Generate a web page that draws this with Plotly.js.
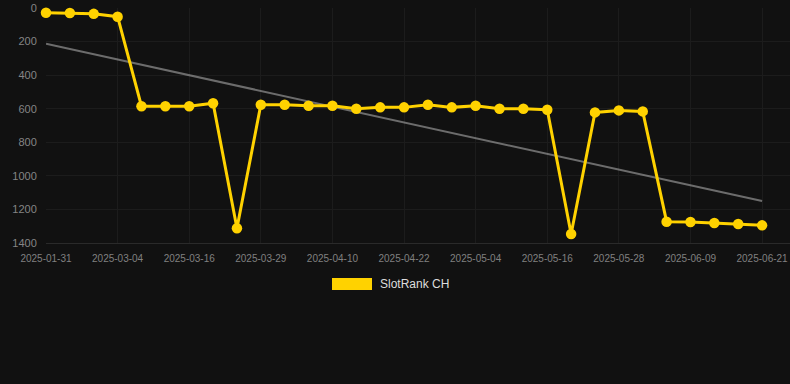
<!DOCTYPE html>
<html>
<head>
<meta charset="utf-8">
<script src="https://cdn.plot.ly/plotly-3.0.1.min.js"></script>
<style>
  html, body { margin: 0; padding: 0; background: #111111; }
  #chart { width: 790px; height: 384px; }
</style>
</head>
<body>
<div id="chart"></div>
<script>
// ---- data ----
const dates = [
  "2025-01-31", "2025-02-11", "2025-02-22", "2025-03-04", "2025-03-08", "2025-03-12",
  "2025-03-16", "2025-03-20", "2025-03-25", "2025-03-29", "2025-04-02", "2025-04-06",
  "2025-04-10", "2025-04-14", "2025-04-18", "2025-04-22", "2025-04-26", "2025-04-30",
  "2025-05-04", "2025-05-08", "2025-05-12", "2025-05-16", "2025-05-20", "2025-05-24",
  "2025-05-28", "2025-06-01", "2025-06-05", "2025-06-09", "2025-06-13", "2025-06-17",
  "2025-06-21"
];
const ranks = [
  28, 30, 35, 52, 585, 585, 585, 567, 1312, 576, 576, 582,
  582, 600, 592, 592, 576, 592, 582, 600, 600, 606, 1346, 622,
  610, 616, 1273, 1275, 1281, 1287, 1295
];
const trendDates = ["2025-01-31", "2025-06-21"];
const trendValues = [213, 1150];
const seriesName = "SlotRank CH";
const yTicks = [0, 200, 400, 600, 800, 1000, 1200, 1400];
const xTickLabels = dates.filter((d, i) => i % 3 === 0);

const gold = "#FFD200";

const traces = [
  {
    type: "scatter", mode: "lines",
    x: trendDates, y: trendValues,
    line: { color: "rgba(170,170,170,0.6)", width: 2 },
    hoverinfo: "skip", showlegend: false
  },
  {
    type: "scatter", mode: "lines+markers",
    x: dates, y: ranks, name: seriesName,
    line: { color: gold, width: 3 },
    marker: { color: gold, size: 10.5 },
    cliponaxis: false, showlegend: false
  }
];

const layout = {
  width: 790, height: 384,
  paper_bgcolor: "#111111", plot_bgcolor: "#111111",
  margin: { l: 46, r: 0, t: 8, b: 141 },
  showlegend: false,
  font: { family: "Liberation Sans, Arial, sans-serif", color: "#888" },
  xaxis: {
    type: "category",
    categoryorder: "array", categoryarray: dates,
    range: [0, 31.17],
    tickmode: "array", tickvals: xTickLabels, ticktext: xTickLabels,
    ticks: "outside", ticklen: 6, tickcolor: "rgba(0,0,0,0)",
    tickfont: { size: 10, color: "#808080" },
    showgrid: true, gridcolor: "#1c1c1c", gridwidth: 1,
    zeroline: false, showline: true, linecolor: "#2a2a2a", linewidth: 1
  },
  yaxis: {
    range: [1400, 0],
    tickmode: "array", tickvals: yTicks,
    ticks: "outside", ticklen: 6, tickcolor: "rgba(0,0,0,0)",
    tickfont: { size: 11, color: "#858585" },
    showgrid: true, gridcolor: "#1c1c1c", gridwidth: 1,
    zeroline: false, showline: false
  },
  shapes: [
    {
      type: "rect", xref: "paper", yref: "paper",
      x0: (332 - 46) / 744, x1: (372 - 46) / 744,
      y0: (384 - 141 - 290) / 235, y1: (384 - 141 - 278) / 235,
      fillcolor: gold, line: { width: 0 }
    }
  ],
  annotations: [
    {
      xref: "paper", yref: "paper",
      x: (378 - 46) / 744, y: (384 - 141 - 284) / 235,
      xanchor: "left", yanchor: "middle",
      text: seriesName, showarrow: false,
      font: { size: 12, color: "#dddddd" }
    }
  ]
};

Plotly.newPlot("chart", traces, layout, { displayModeBar: false, staticPlot: true });
</script>
</body>
</html>
